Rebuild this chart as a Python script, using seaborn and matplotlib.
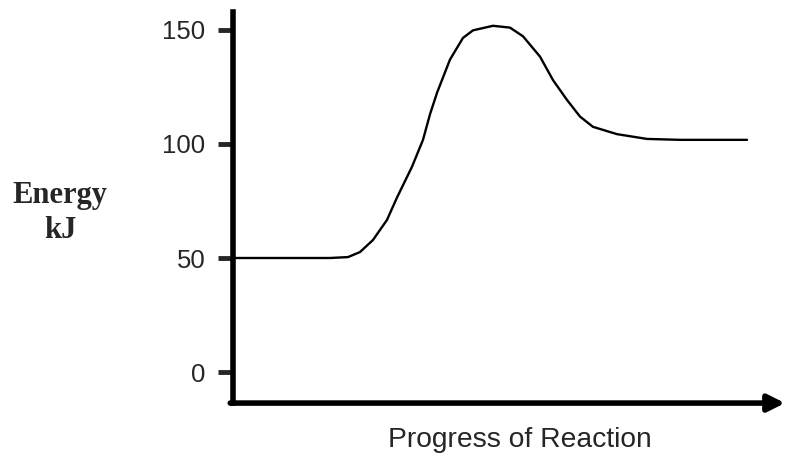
import numpy as np
import pandas as pd
import matplotlib
matplotlib.use("Agg")
import matplotlib.pyplot as plt
import seaborn as sns

# reaction progress (arbitrary units) and energy (kJ)
progress = [2, 97, 115, 127, 140, 154, 164, 179, 190, 197, 204, 217, 230,
            240, 260, 277, 290, 307, 320, 334, 347, 360, 384, 414, 447, 514]
energy = [50, 50, 50.4, 52.6, 57.9, 66.7, 76.5, 90, 101.8, 113, 122.4,
          137, 146.5, 149.8, 151.8, 151, 147.2, 138.3, 128, 119.3, 112,
          107.5, 104.3, 102.2, 101.8, 101.8]
yticks = [0, 50, 100, 150]

df = pd.DataFrame({"progress": progress, "energy": energy})

sns.set_style("white")
fig = plt.figure(figsize=(7.85, 4.57), dpi=100)
ax = fig.add_axes([0.2968, 0.118, 0.7032, 0.856])

sns.lineplot(data=df, x="progress", y="energy", color="black", linewidth=1.7, ax=ax)

ax.set_xlim(0, 552)
ax.set_ylim(-13.6, 157.9)
ax.set_xticks([])
ax.set_yticks(yticks)
ax.set_yticklabels([str(t) for t in yticks], fontsize=18.5, family="Liberation Sans")
ax.tick_params(axis="y", direction="out", length=11, width=3.5, pad=9, left=True)

for s in ["top", "right", "bottom"]:
    ax.spines[s].set_visible(False)
ax.spines["left"].set_linewidth(4)
ax.spines["left"].set_color("black")

# x axis drawn as an arrow
ax.annotate("", xy=(1.0, 0), xytext=(-0.005, 0), xycoords="axes fraction",
            arrowprops=dict(arrowstyle="-|>,head_length=1.0,head_width=0.5",
                            color="black", lw=4, shrinkA=0, shrinkB=0))

ax.set_xlabel("")
ax.set_ylabel("")
fig.text(60 / 785, 1 - 213 / 457, "Energy\nkJ", ha="center", va="center", fontsize=22,
         fontweight="bold", family="Liberation Serif", linespacing=1.25)
fig.text(388 / 785, 1 - 440 / 457, "Progress of Reaction", ha="left", va="center",
         fontsize=20.3, family="Liberation Sans")

fig.savefig("out.png", dpi=100)
